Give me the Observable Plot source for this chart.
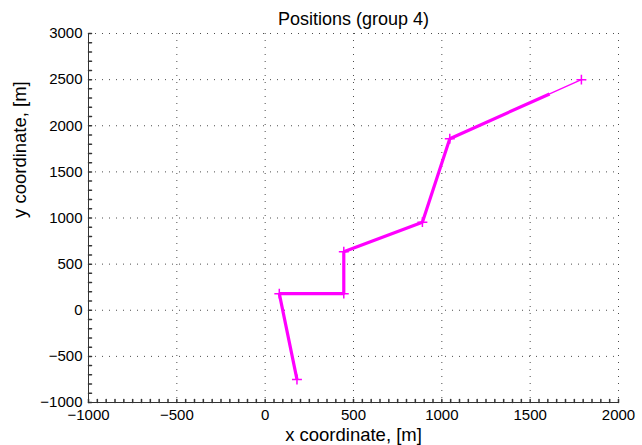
<!DOCTYPE html>
<html>
<head>
<meta charset="utf-8">
<script src="https://cdn.jsdelivr.net/npm/d3@7"></script>
<script src="https://cdn.jsdelivr.net/npm/@observablehq/plot@0.6"></script>
<style>
  html, body { margin: 0; padding: 0; background: #fff; }
  #chart svg { display: block; font-family: "Liberation Sans", Arial, Helvetica, sans-serif; }
</style>
</head>
<body>
<div id="chart"></div>
<script>
// Track of group 4: thick segment through the recorded fixes
const pathX = [180, 80, 445, 445, 890, 1045, 1610];
const pathY = [-750, 180, 180, 635, 955, 1860, 2345];
// thin continuation to the latest fix
const headX = [1610, 1790];
const headY = [2345, 2500];
// "+" markers at the fixes
const fixX = [180, 80, 445, 445, 890, 1045, 1790];
const fixY = [-750, 180, 180, 635, 955, 1860, 2500];

// axes
const xDomain = [-1000, 2000];
const yDomain = [-1000, 3000];
const xMajor = [-1000, -500, 0, 500, 1000, 1500, 2000];
const yMajor = [-1000, -500, 0, 500, 1000, 1500, 2000, 2500, 3000];
const xMinor = d3.range(-1000, 2001, 50);
const yMinor = d3.range(-1000, 3001, 100);

const titleText = "Positions (group 4)";
const xLabel = "x coordinate, [m]";
const yLabel = "y coordinate, [m]";

const toRows = (xs, ys) => xs.map((x, i) => ({x, y: ys[i]}));
const path = toRows(pathX, pathY);
const head = toRows(headX, headY);
const fixes = toRows(fixX, fixY);

const magenta = "#ff00ff";
const fmt = d3.format("d");
// short inward tick drawn by vector marks
const tickShape = {draw(ctx, l) { ctx.moveTo(0, 0); ctx.lineTo(0, -l); }};

const chart = Plot.plot({
  width: 642,
  height: 445,
  marginLeft: 88,
  marginRight: 24,
  marginTop: 33,
  marginBottom: 43,
  x: {domain: xDomain, axis: null},
  y: {domain: yDomain, axis: null},
  style: {fontFamily: '"Liberation Sans", Arial, Helvetica, sans-serif', color: "#000", background: "#fff"},
  marks: [
    Plot.gridX(xMajor.slice(1), {stroke: "#000", strokeOpacity: 0.7, strokeDasharray: "1,6"}),
    Plot.gridY(yMajor.slice(1), {stroke: "#000", strokeOpacity: 0.7, strokeDasharray: "1,6"}),
    Plot.ruleX([xDomain[0]], {stroke: "#333", strokeWidth: 1}),
    Plot.ruleY([yDomain[0]], {stroke: "#333", strokeWidth: 1}),
    Plot.vector(xMinor, {x: d => d, frameAnchor: "bottom", rotate: 0, anchor: "start", length: 3, shape: tickShape, stroke: "#333"}),
    Plot.vector(yMinor, {y: d => d, frameAnchor: "left", rotate: 90, anchor: "start", length: 3, shape: tickShape, stroke: "#333"}),
    Plot.axisX(xMajor, {tickSize: 0, tickPadding: 7, tickFormat: fmt, label: null, fontSize: 15, stroke: null}),
    Plot.axisY(yMajor, {tickSize: 0, tickPadding: 6, tickFormat: fmt, label: null, fontSize: 15, stroke: null}),
    Plot.line(path, {x: "x", y: "y", stroke: magenta, strokeWidth: 3.2, strokeLinejoin: "miter", strokeLinecap: "butt"}),
    Plot.line(head, {x: "x", y: "y", stroke: magenta, strokeWidth: 1.3}),
    Plot.dot(fixes, {x: "x", y: "y", symbol: "plus", r: 3.3, stroke: magenta, strokeWidth: 1.5}),
    Plot.text([titleText], {frameAnchor: "top", lineAnchor: "bottom", dy: -9, fontSize: 18}),
    Plot.text([xLabel], {frameAnchor: "bottom", lineAnchor: "bottom", dy: 38, fontSize: 18.5}),
    Plot.text([yLabel], {frameAnchor: "left", rotate: -90, dx: -68, fontSize: 18.5})
  ]
});
document.getElementById("chart").append(chart);
</script>
</body>
</html>
